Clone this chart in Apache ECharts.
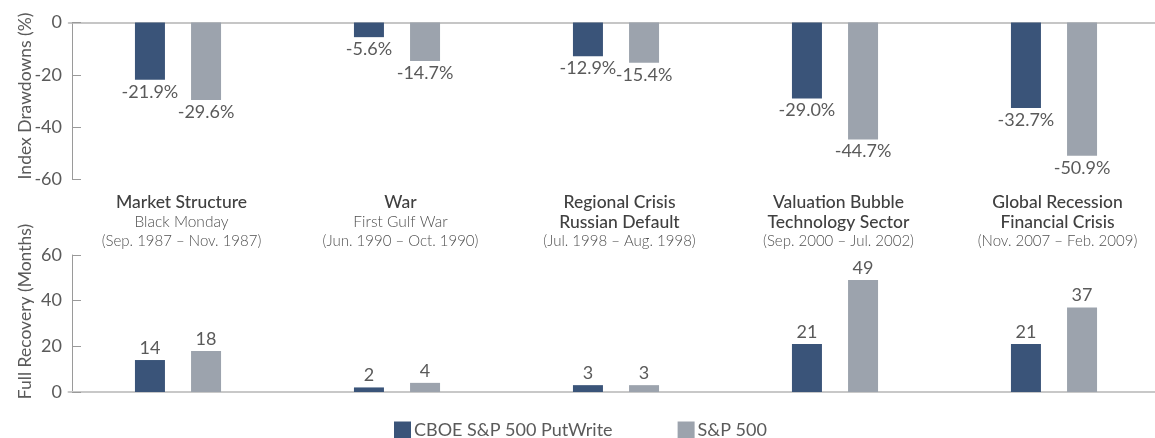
<!DOCTYPE html>
<html>
<head>
<meta charset="utf-8">
<script src="https://cdn.jsdelivr.net/npm/echarts@6/dist/echarts.min.js"></script>
<style>
html,body{margin:0;padding:0;background:#fff;}
#c{width:1155px;height:438px;}
</style>
</head>
<body>
<div id="c"></div>
<script>
var categoryTitles = ['Market Structure', 'War', 'Regional Crisis', 'Valuation Bubble', 'Global Recession'];
var categorySubtitles = ['Black Monday', 'First Gulf War', 'Russian Default', 'Technology Sector', 'Financial Crisis'];
var categoryPeriods = ['(Sep. 1987 \u2013 Nov. 1987)', '(Jun. 1990 \u2013 Oct. 1990)', '(Jul. 1998 \u2013 Aug. 1998)', '(Sep. 2000 \u2013 Jul. 2002)', '(Nov. 2007 \u2013 Feb. 2009)'];
var seriesNames = ['CBOE S&P 500 PutWrite', 'S&P 500'];
var drawdownPutWrite = [-21.9, -5.6, -12.9, -29.0, -32.7];
var drawdownSP500 = [-29.6, -14.7, -15.4, -44.7, -50.9];
var recoveryPutWrite = [14, 2, 3, 21, 21];
var recoverySP500 = [18, 4, 3, 49, 37];
var drawdownTicks = [-60, -40, -20, 0];
var recoveryTicks = [0, 20, 40, 60];

var FONT = 'Lato';
var DARK = '#3a5479';
var GREY = '#9ca3ad';
var TXT = '#5a5a5a';

var chart = echarts.init(document.getElementById('c'), null, {renderer: 'canvas'});

function yAxisCommon(gi, ticks, name, namePad) {
  return {
    type: 'value', gridIndex: gi,
    min: ticks[0], max: ticks[ticks.length - 1], interval: ticks[1] - ticks[0],
    offset: -3.5,
    name: name, nameLocation: 'middle', nameGap: 38, nameMoveOverlap: false,
    nameTextStyle: {fontFamily: FONT, fontSize: 17.5, color: TXT, padding: namePad},
    axisLine: {show: true, lineStyle: {color: '#9a9a9a', width: 1}},
    axisTick: {show: true, inside: true, length: 9, lineStyle: {color: '#9a9a9a'}},
    splitLine: {show: false},
    axisLabel: {fontFamily: FONT, fontSize: 18, color: TXT, margin: 10}
  };
}

var option = {
  animation: false,
  textStyle: {fontFamily: FONT},
  grid: [
    {left: 68.5, width: 1095, top: 22.5, height: 157, outerBoundsMode: 'none', containLabel: false},
    {left: 68.5, width: 1095, top: 255, height: 137, outerBoundsMode: 'none', containLabel: false}
  ],
  legend: {
    left: 389, top: 416,
    icon: 'rect', itemWidth: 17, itemHeight: 17, itemGap: 65,
    textStyle: {fontFamily: FONT, fontSize: 18, color: TXT, padding: [0, 0, 0, -2]},
    data: seriesNames
  },
  xAxis: [
    {type: 'category', gridIndex: 0, position: 'top', data: categoryTitles,
      axisLine: {show: true, onZero: false, lineStyle: {color: '#b4b4b4', width: 1.5}},
      axisTick: {show: false}, axisLabel: {show: false}},
    {type: 'category', gridIndex: 1, position: 'bottom', data: categoryTitles,
      axisLine: {show: true, onZero: false, lineStyle: {color: '#c8c8c8', width: 2}},
      axisTick: {show: false}, axisLabel: {show: false}},
    {type: 'category', gridIndex: 1, position: 'top', data: categoryTitles,
      axisLine: {show: false, onZero: false}, axisTick: {show: false},
      axisLabel: {
        show: true, interval: 0, margin: 4, padding: [0, 0, 0, 7],
        formatter: function (v, i) {
          var subStyle = i < 2 ? 'sub' : 'title';
          return '{title|' + categoryTitles[i] + '}\n{' + subStyle + '|' + categorySubtitles[i] + '}\n{period|' + categoryPeriods[i] + '}';
        },
        rich: {
          title: {fontFamily: FONT, fontSize: 17.5, fontWeight: 500, color: '#404040', lineHeight: 20, align: 'center'},
          sub: {fontFamily: FONT, fontSize: 15.5, fontWeight: 300, color: '#505050', lineHeight: 20, align: 'center'},
          period: {fontFamily: FONT, fontSize: 15, fontWeight: 300, color: '#505050', lineHeight: 19, align: 'center'}
        }
      }}
  ],
  yAxis: [
    yAxisCommon(0, drawdownTicks, 'Index Drawdowns (%)', [0, 0, 0, 10]),
    yAxisCommon(1, recoveryTicks, 'Full Recovery (Months)', [0, 0, 0, 24])
  ],
  series: [
    {name: seriesNames[0], type: 'bar', xAxisIndex: 0, yAxisIndex: 0, data: drawdownPutWrite,
      barWidth: 30, barGap: '87%', itemStyle: {color: DARK},
      label: {show: true, position: 'bottom', distance: 3, fontFamily: FONT, fontSize: 18, color: TXT,
        formatter: function (p) { return p.value.toFixed(1) + '%'; }}},
    {name: seriesNames[1], type: 'bar', xAxisIndex: 0, yAxisIndex: 0, data: drawdownSP500,
      barWidth: 30, barGap: '87%', itemStyle: {color: GREY},
      label: {show: true, position: 'bottom', distance: 3, fontFamily: FONT, fontSize: 18, color: TXT,
        formatter: function (p) { return p.value.toFixed(1) + '%'; }}},
    {name: seriesNames[0], type: 'bar', xAxisIndex: 1, yAxisIndex: 1, data: recoveryPutWrite,
      barWidth: 30, barGap: '87%', itemStyle: {color: DARK},
      label: {show: true, position: 'top', distance: 3, fontFamily: FONT, fontSize: 18, color: TXT}},
    {name: seriesNames[1], type: 'bar', xAxisIndex: 1, yAxisIndex: 1, data: recoverySP500,
      barWidth: 30, barGap: '87%', itemStyle: {color: GREY},
      label: {show: true, position: 'top', distance: 3, fontFamily: FONT, fontSize: 18, color: TXT}}
  ]
};
chart.setOption(option);
</script>
</body>
</html>
